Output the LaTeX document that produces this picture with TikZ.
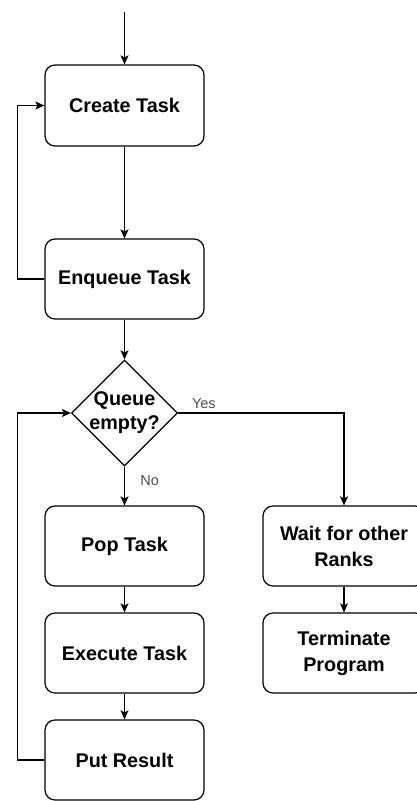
\documentclass[tikz,border=0pt]{standalone}
\usepackage{fontspec}
\setmainfont{Liberation Sans}
\usetikzlibrary{arrows.meta,shapes.geometric}

\begin{document}
\begin{tikzpicture}[x=1pt,y=-1pt,>={Stealth[length=9pt,width=8pt,inset=2pt]},line width=1.2pt,
  task/.style={draw,rounded corners=10pt,minimum width=159pt,minimum height=80pt,align=center,font=\fontsize{19.8}{26}\selectfont\bfseries},
  check/.style={draw,diamond,inner sep=-6pt,minimum width=106pt,minimum height=106pt,align=center,font=\fontsize{19.8}{25}\selectfont\bfseries},
  lbl/.style={text=black!70,font=\fontsize{14.5}{17}\selectfont}]
\useasboundingbox (0,0) rectangle (416,801);
\coordinate (start) at (124.5,12);
\node[task,minimum height=81pt] (create) at (124.5,105.5) {Create Task};
\node[task] (enqueue) at (124.5,279) {Enqueue Task};
\node[check] (queue) at (124.5,413) {Queue\\[-1pt]empty?};
\node[task] (pop) at (124.5,546) {Pop Task};
\node[task] (exec) at (124.5,653) {Execute Task};
\node[task] (put) at (124.5,760) {Put Result};
\node[task,minimum width=162pt] (wait) at (344,546) {Wait for other\\Ranks};
\node[task,minimum width=162pt] (term) at (344,653) {Terminate\\Program};
\draw[->] (start) -- (create);
\draw[->] (create) -- (enqueue);
\draw[->] (enqueue.west) -- ++(-27,0) |- (create.west);
\draw[->] (enqueue) -- (queue);
\draw[->] (queue.east) -| node[lbl,pos=0,above right,xshift=10pt] {Yes} (wait.north);
\draw[->] (queue) -- node[lbl,right=12pt,pos=0.35] {No} (pop);
\draw[->] (pop) -- (exec);
\draw[->] (exec) -- (put);
\draw[->] (put.west) -- ++(-27,0) |- (queue.west);
\draw[->] (wait) -- (term);
\end{tikzpicture}
\end{document}
